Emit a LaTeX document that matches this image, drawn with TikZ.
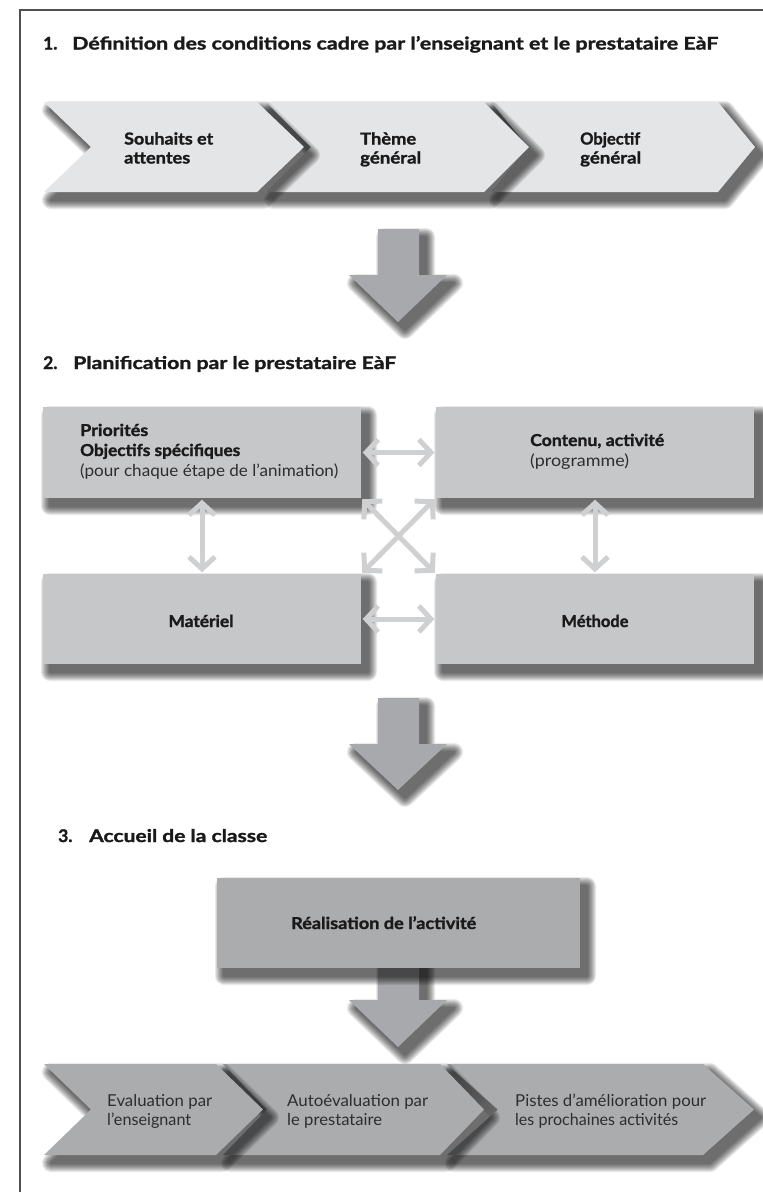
\documentclass[tikz,border=0pt]{standalone}
\usepackage{fontspec}
\setmainfont{Lato}[BoldFeatures={FakeBold=1.4}]
\usepackage{graphicx}
\usetikzlibrary{arrows.meta}
\definecolor{framecol}{HTML}{505050}
\definecolor{chevlight}{HTML}{E4E5E6}
\definecolor{boxgrey}{HTML}{C6C7C9}
\definecolor{darkgrey}{HTML}{ABACAE}
\definecolor{arrowgrey}{HTML}{A8A9AC}
\definecolor{linkgrey}{HTML}{CFD0D2}
\definecolor{txt}{HTML}{1A1A1A}
\definecolor{txtlight}{HTML}{2E2E2E}
\newcommand\fitto[2]{\resizebox{#1bp}{\height}{#2}}
\newcommand\softshadow[1]{%
  \foreach \k in {1,...,9}{%
    \begin{scope}[transparency group, opacity=0.085, shift={(7,8)}]
      \filldraw[black, line width=\k*2bp, line join=round] #1;
    \end{scope}}}
% chevron: #1 left, #2 right corner, #3 tip, #4 top, #5 bottom, #6 fill
\newcommand\chev[6]{%
  \softshadow{(#1,#4) -- (#2,#4) -- (#3,{(#4+#5)/2}) -- (#2,#5) -- (#1,#5) -- ({#1+#3-#2},{(#4+#5)/2}) -- cycle}
  \fill[#6] (#1,#4) -- (#2,#4) -- (#3,{(#4+#5)/2}) -- (#2,#5) -- (#1,#5) -- ({#1+#3-#2},{(#4+#5)/2}) -- cycle;}
% big arrow: #1 shaft top, #2 head top, #3 tip
\newcommand\bigarrow[3]{%
  \softshadow{(378,#1) -- (419,#1) -- (419,#2) -- (447,#2) -- (398,#3) -- (349,#2) -- (378,#2) -- cycle}
  \fill[arrowgrey] (378,#1) -- (419,#1) -- (419,#2) -- (447,#2) -- (398,#3) -- (349,#2) -- (378,#2) -- cycle;}
\begin{document}
\begin{tikzpicture}[x=1bp, y=-1bp,
  boldtxt/.style={inner sep=0pt, anchor=base west, text=txt, font=\fontsize{16.5}{19}\selectfont\bfseries},
  lighttxt/.style={inner sep=0pt, anchor=base west, text=txtlight, font=\fontsize{16.5}{19}\selectfont},
  ttltxt/.style={inner sep=0pt, anchor=base west, text=txt, font=\fontsize{17.5}{20}\selectfont\bfseries},
  panel/.style={fill=#1, inner sep=0pt, minimum height=91bp},
  link/.style={draw=linkgrey, line width=5bp, {Straight Barb[length=12bp,width=26bp]}-{Straight Barb[length=12bp,width=26bp]}, shorten <=1.5bp, shorten >=1.5bp}]
\useasboundingbox (0,0) rectangle (763,1192);
\fill[white] (0,0) rectangle (763,1192);
\draw[framecol, line width=1.5bp] (20,1192) -- (20,10) -- (763,10);

% ---------- section 1
\node[ttltxt] (t1num) at (43,49.5) {1.};
\node[ttltxt] (t1) at (72,49.5) {\fitto{646}{Définition des conditions cadre par l’enseignant et le prestataire EàF}};

\chev{491}{718}{755}{102}{192}{chevlight}
\chev{266}{484}{529}{102}{192}{chevlight}
\chev{44}{257}{304}{102}{192}{chevlight}

\node[boldtxt] (s1a) at (124,144.5) {\fitto{89}{Souhaits et}};
\node[boldtxt] (s1b) at (124,163.5) {\fitto{66}{attentes}};
\node[boldtxt] (s2a) at (360,144.5) {\fitto{56}{Thème}};
\node[boldtxt] (s2b) at (360,163.5) {\fitto{61}{général}};
\node[boldtxt] (s3a) at (580,144.5) {\fitto{60}{Objectif}};
\node[boldtxt] (s3b) at (580,163.5) {\fitto{61}{général}};

\bigarrow{229}{275}{322}

% ---------- section 2
\node[ttltxt] (t2num) at (43,369) {2.};
\node[ttltxt] (t2) at (73,369) {\fitto{323}{Planification par le prestataire EàF}};

\softshadow{(43,407) rectangle (361,498)}
\softshadow{(436,407) rectangle (754,498)}
\softshadow{(43,574) rectangle (361,664)}
\softshadow{(436,574) rectangle (754,664)}
\node[panel=boxgrey, minimum width=318bp] (prio) at (202,452.5) {};
\node[panel=boxgrey, minimum width=318bp] (cont) at (595,452.5) {};
\node[panel=boxgrey, minimum width=318bp, minimum height=90bp] (mat) at (202,619) {};
\node[panel=boxgrey, minimum width=318bp, minimum height=90bp] (meth) at (595,619) {};

\node[boldtxt] (p1) at (80,436) {\fitto{68}{Priorités}};
\node[boldtxt] (p2) at (80,456) {\fitto{160}{Objectifs spécifiques}};
\node[lighttxt] (p3) at (80,476) {\fitto{258}{(pour chaque étape de l’animation)}};
\node[boldtxt] (c1) at (530,446) {\fitto{134}{Contenu, activité}};
\node[lighttxt] (c2) at (530,466) {\fitto{99}{(programme)}};
\node[boldtxt, anchor=base] (m1) at (201,627) {\fitto{65}{Matériel}};
\node[boldtxt, anchor=base] (m2) at (595,627) {\fitto{67}{Méthode}};

\draw[link] (prio.east) -- (cont.west);
\draw[link] (mat.east) -- (meth.west);
\draw[link] (prio.south) -- (mat.north);
\draw[link] (cont.south) -- (meth.north);
\draw[link] (prio.south east) -- (meth.north west);
\draw[link] (cont.south west) -- (mat.north east);

\bigarrow{698}{744}{790}

% ---------- section 3
\node[ttltxt] (t3num) at (58,842) {3.};
\node[ttltxt] (t3) at (89,842) {\fitto{178}{Accueil de la classe}};

\bigarrow{960}{1000}{1047}
\softshadow{(217,878) rectangle (580,968)}
\node[panel=darkgrey, minimum width=363bp, minimum height=90bp] (real) at (398.5,923) {};
\node[boldtxt] (r1) at (291,929) {\fitto{185}{Réalisation de l’activité}};

\chev{447}{703}{754}{1064}{1155}{darkgrey}
\chev{223}{440}{484}{1064}{1155}{darkgrey}
\chev{44}{216}{263}{1064}{1155}{darkgrey}

\node[lighttxt] (e1a) at (107,1106) {\fitto{105}{Evaluation par}};
\node[lighttxt] (e1b) at (107,1125) {\fitto{84}{l’enseignant}};
\node[lighttxt] (e2a) at (287,1106) {\fitto{141}{Autoévaluation par}};
\node[lighttxt] (e2b) at (287,1125) {\fitto{95}{le prestataire}};
\node[lighttxt] (e3a) at (515,1106) {\fitto{191}{Pistes d’amélioration pour}};
\node[lighttxt] (e3b) at (515,1125) {\fitto{163}{les prochaines activités}};
\end{tikzpicture}
\end{document}
